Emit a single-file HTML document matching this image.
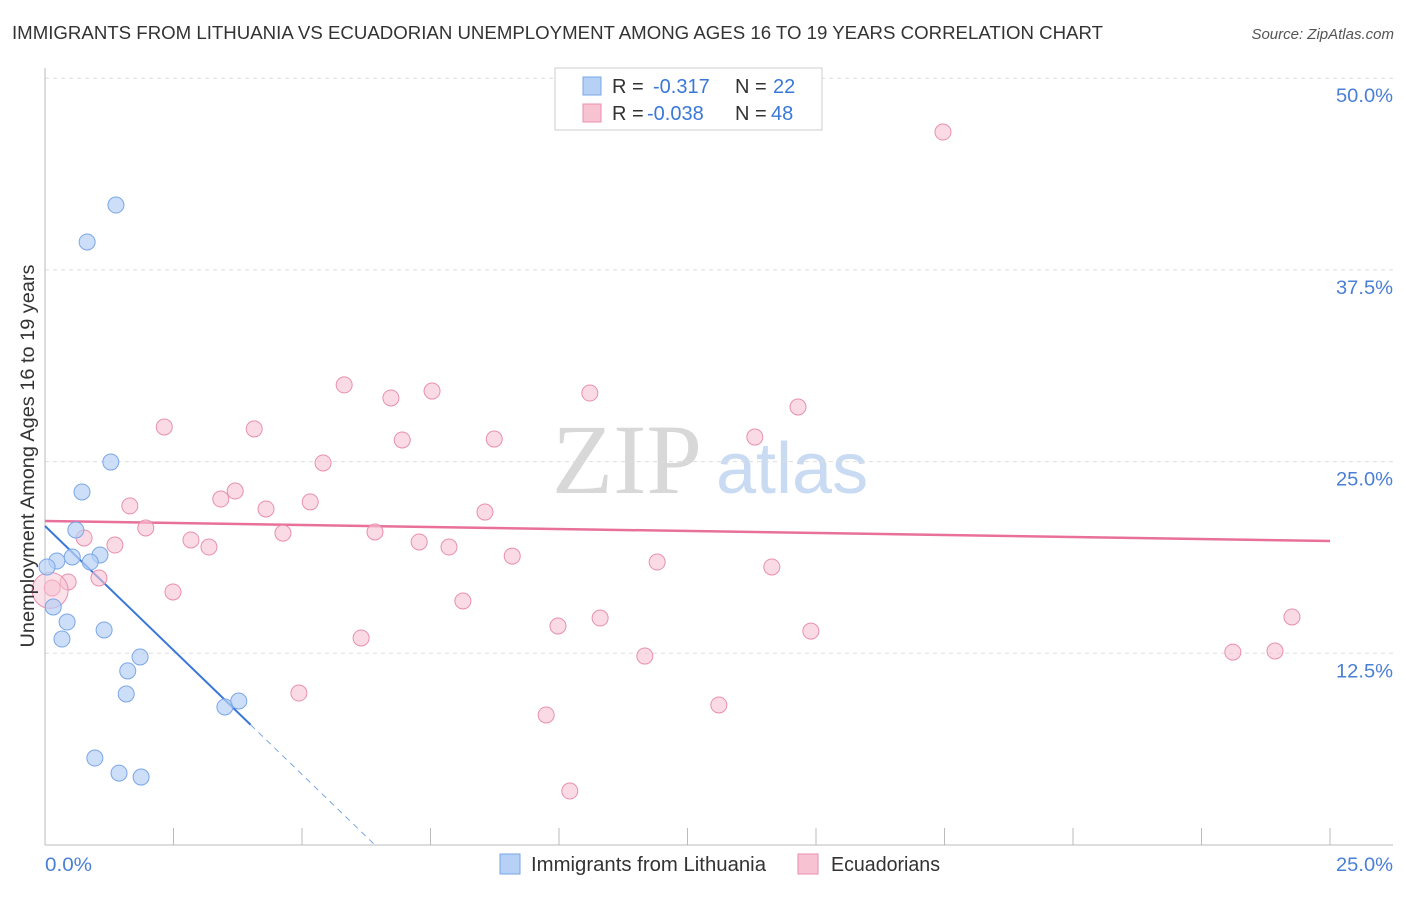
<!DOCTYPE html>
<html><head><meta charset="utf-8"><style>
body{margin:0;background:#fff;width:1406px;height:892px;overflow:hidden;font-family:"Liberation Sans",sans-serif}
</style></head><body>
<svg id="chart" width="1406" height="892" xmlns="http://www.w3.org/2000/svg">
<text x="12" y="39" font-size="18" fill="#333" textLength="1091" lengthAdjust="spacingAndGlyphs">IMMIGRANTS FROM LITHUANIA VS ECUADORIAN UNEMPLOYMENT AMONG AGES 16 TO 19 YEARS CORRELATION CHART</text>
<text x="1394" y="39" font-size="15" fill="#555" font-style="italic" text-anchor="end">Source: ZipAtlas.com</text>
<g id="watermark">
<text x="552" y="493" font-family="Liberation Serif,serif" font-size="100" fill="#d8d8d8">ZIP</text>
<text x="716" y="493" font-size="72" fill="#c9daf3">atlas</text>
</g>
<g id="grid"></g><g id="axes"></g><g id="lines"></g><g id="points"></g>
<text transform="translate(34,456) rotate(-90)" font-size="19" fill="#333" text-anchor="middle" textLength="383" lengthAdjust="spacingAndGlyphs">Unemployment Among Ages 16 to 19 years</text>
<g>
<rect x="555" y="68" width="267" height="62" fill="#fff" stroke="#ccc"/>
<rect x="583" y="77" width="18" height="18" fill="#b7d0f5" stroke="#7aa6e8"/>
<rect x="583" y="104" width="18" height="18" fill="#f7c3d3" stroke="#e98fae"/>
<text x="612" y="93" font-size="20" fill="#333">R = <tspan x="653" fill="#3a78d8">-0.317</tspan><tspan x="735" fill="#333">N = </tspan><tspan x="773" fill="#3a78d8">22</tspan></text>
<text x="612" y="120" font-size="20" fill="#333">R = <tspan x="647" fill="#3a78d8">-0.038</tspan><tspan x="735" fill="#333">N = </tspan><tspan x="771" fill="#3a78d8">48</tspan></text>
</g>
<g>
<rect x="500" y="854" width="20" height="20" fill="#b7d0f5" stroke="#7aa6e8"/>
<text x="531" y="871" font-size="20" fill="#333" textLength="235" lengthAdjust="spacingAndGlyphs">Immigrants from Lithuania</text>
<rect x="798" y="854" width="20" height="20" fill="#f7c3d3" stroke="#e98fae"/>
<text x="831" y="871" font-size="20" fill="#333" textLength="109" lengthAdjust="spacingAndGlyphs">Ecuadorians</text>
</g>
</svg>
<script>
const blueX=[1.38,0.82,1.28,0.72,0.60,0.23,0.53,1.07,0.88,0.04,0.16,0.43,0.33,1.15,1.85,1.61,1.58,3.50,3.77,0.97,1.44,1.87];
const blueY=[41.73,39.32,24.97,23.02,20.54,18.52,18.78,18.91,18.45,18.13,15.52,14.54,13.43,14.02,12.26,11.35,9.85,9.00,9.39,5.67,4.69,4.43];
const pinkX=[17.47,5.82,7.53,6.73,10.60,14.65,2.32,4.07,6.95,8.74,13.81,5.41,3.70,3.42,1.65,5.16,4.30,8.56,1.96,4.63,6.42,0.76,1.36,2.84,3.19,7.28,7.86,9.09,11.91,14.14,1.05,0.45,0.14,2.49,8.13,10.80,24.26,9.98,14.90,6.15,11.67,23.11,23.93,4.94,13.11,9.75,10.21,0.10];
const pinkY=[46.49,30.00,29.60,29.15,29.47,28.56,27.26,27.13,26.41,26.47,26.60,24.91,23.08,22.56,22.11,22.37,21.91,21.71,20.67,20.34,20.41,20.02,19.56,19.89,19.43,19.76,19.43,18.84,18.45,18.13,17.41,17.15,16.76,16.50,15.91,14.80,14.87,14.28,13.95,13.50,12.32,12.58,12.65,9.91,9.13,8.48,3.52,16.6];
const yTicks=[12.5,25,37.5,50];
const yTickLabels=["12.5%","25.0%","37.5%","50.0%"];
const xTicks=[0,2.5,5,7.5,10,12.5,15,17.5,20,22.5,25];
const blueTrend=[20.8,-3.24];
const pinkTrend=[21.13,-0.0524];
const X0=45,X1=1330,Y0=845,YS=15.336;
const sx=v=>X0+v*(X1-X0)/25, sy=v=>Y0-v*YS;
const NS="http://www.w3.org/2000/svg";
function mk(t,a,p){const e=document.createElementNS(NS,t);for(const k in a)e.setAttribute(k,a[k]);document.getElementById(p).appendChild(e);return e;}
yTicks.forEach((v,i)=>{
 const g=mk('line',{x1:45,x2:1393,y1:sy(v),y2:sy(v),stroke:'#ddd','stroke-dasharray':'4,4'},'grid');
 
 
 const t=mk('text',{x:1393,y:sy(v)+24,'font-size':19,fill:'#4a7fd6','text-anchor':'end',textLength:57,lengthAdjust:'spacingAndGlyphs'},'grid');
 t.textContent=yTickLabels[i];
 
 
});
const ax=mk('line',{x1:45,x2:45,y1:68,y2:845,stroke:'#bbb'},'axes');


const bx=mk('line',{x1:45,x2:1393,y1:845,y2:845,stroke:'#bbb'},'axes');


xTicks.forEach(v=>{const t=mk('line',{x1:sx(v),x2:sx(v),y1:828,y2:845,stroke:'#bbb'},'axes');
 
 });
const xl0=mk('text',{x:45,y:871,'font-size':19,fill:'#4a7fd6',textLength:47,lengthAdjust:'spacingAndGlyphs'},'axes');xl0.textContent='0.0%';


const xl1=mk('text',{x:1393,y:871,'font-size':19,fill:'#4a7fd6','text-anchor':'end',textLength:57,lengthAdjust:'spacingAndGlyphs'},'axes');xl1.textContent='25.0%';


pinkX.forEach((x,i)=>{const r=i==pinkX.length-1?18:8;
 const c=mk('circle',{cx:sx(x),cy:sy(pinkY[i]),r:r,fill:'#f7c3d3','fill-opacity':i==pinkX.length-1?0.5:0.6,stroke:'#e98fae','stroke-width':1},'points');
 
 });
blueX.forEach((x,i)=>{const c=mk('circle',{cx:sx(x),cy:sy(blueY[i]),r:8,fill:'#b7d0f5','fill-opacity':0.7,stroke:'#7aa6e8','stroke-width':1},'points');
 
 });
const pl=mk('line',{x1:sx(0),y1:sy(pinkTrend[0]),x2:sx(25),y2:sy(pinkTrend[0]+pinkTrend[1]*25),stroke:'#e8709a','stroke-width':2.5},'lines');


const xe=4, xz=-blueTrend[0]/blueTrend[1];
const bl=mk('line',{x1:sx(0),y1:sy(blueTrend[0]),x2:sx(xe),y2:sy(blueTrend[0]+blueTrend[1]*xe),stroke:'#3a78d8','stroke-width':2},'lines');


const bd=mk('line',{x1:sx(xe),y1:sy(blueTrend[0]+blueTrend[1]*xe),x2:sx(xz),y2:sy(0),stroke:'#7aa6e8','stroke-width':1,'stroke-dasharray':'6,5'},'lines');


</script>
</body></html>
